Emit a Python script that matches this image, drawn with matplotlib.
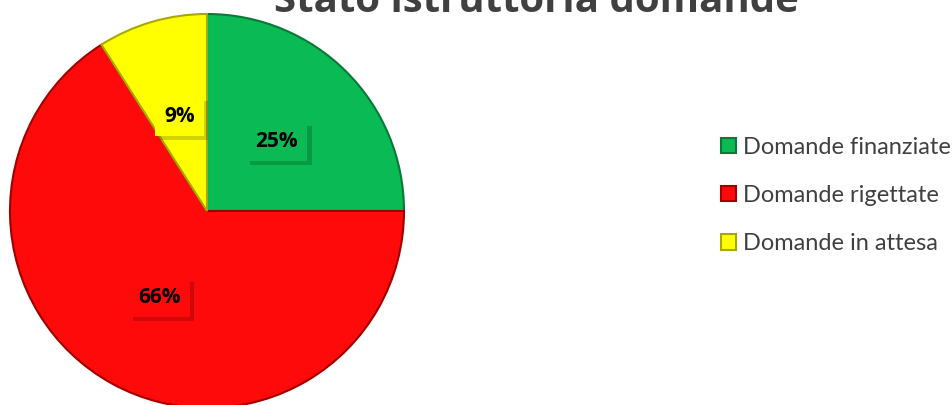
import matplotlib.pyplot as plt
import matplotlib.patheffects as pe

categories = ['Domande finanziate', 'Domande rigettate', 'Domande in attesa']
values = [25, 66, 9]
colors = ['#0ABA55', '#FF0A0A', '#FFFF00']
edge_colors = ['#067A36', '#A00000', '#A8A800']

W, H = 953, 405

fig = plt.figure(figsize=(W / 100, H / 100), dpi=100)
ax = fig.add_axes([0, 0, 1, 1])

wedges, texts, autotexts = ax.pie(
    values, colors=colors, startangle=90, counterclock=False,
    center=(207, H - 211), radius=197, frame=True,
    autopct=lambda p: f'{p:.0f}%', pctdistance=0.5,
    wedgeprops=dict(linewidth=1.5),
    textprops=dict(fontsize=15, fontweight='bold', color='black',
                   family=['Open Sans', 'DejaVu Sans']))
ax.set_xlim(0, W)
ax.set_ylim(0, H)
ax.set_aspect('equal')
ax.axis('off')

for w, ec in zip(wedges, edge_colors):
    w.set_edgecolor(ec)

for t, c in zip(autotexts, colors):
    t.set_bbox(dict(boxstyle='square,pad=0.45', facecolor=c, edgecolor='none'))
    t.get_bbox_patch().set_path_effects(
        [pe.SimplePatchShadow(offset=(3, -3), alpha=0.25), pe.Normal()])

fig.text(536 / W, 1 - 12 / H, 'Stato istruttoria domande', ha='center', va='baseline',
         fontsize=29, fontweight='bold', color='#404040', family=['Open Sans', 'DejaVu Sans'])

leg = ax.legend(wedges, categories, loc='upper left', bbox_to_anchor=(721 / W, 1 - 137 / H),
                frameon=False, borderpad=0, borderaxespad=0,
                handlelength=0.62, handleheight=0.62,
                handletextpad=0.3, labelspacing=1.15,
                prop=dict(family=['Lato', 'DejaVu Sans'], size=17))
for t in leg.get_texts():
    t.set_color('#404040')

fig.savefig('out.png', dpi=100)
